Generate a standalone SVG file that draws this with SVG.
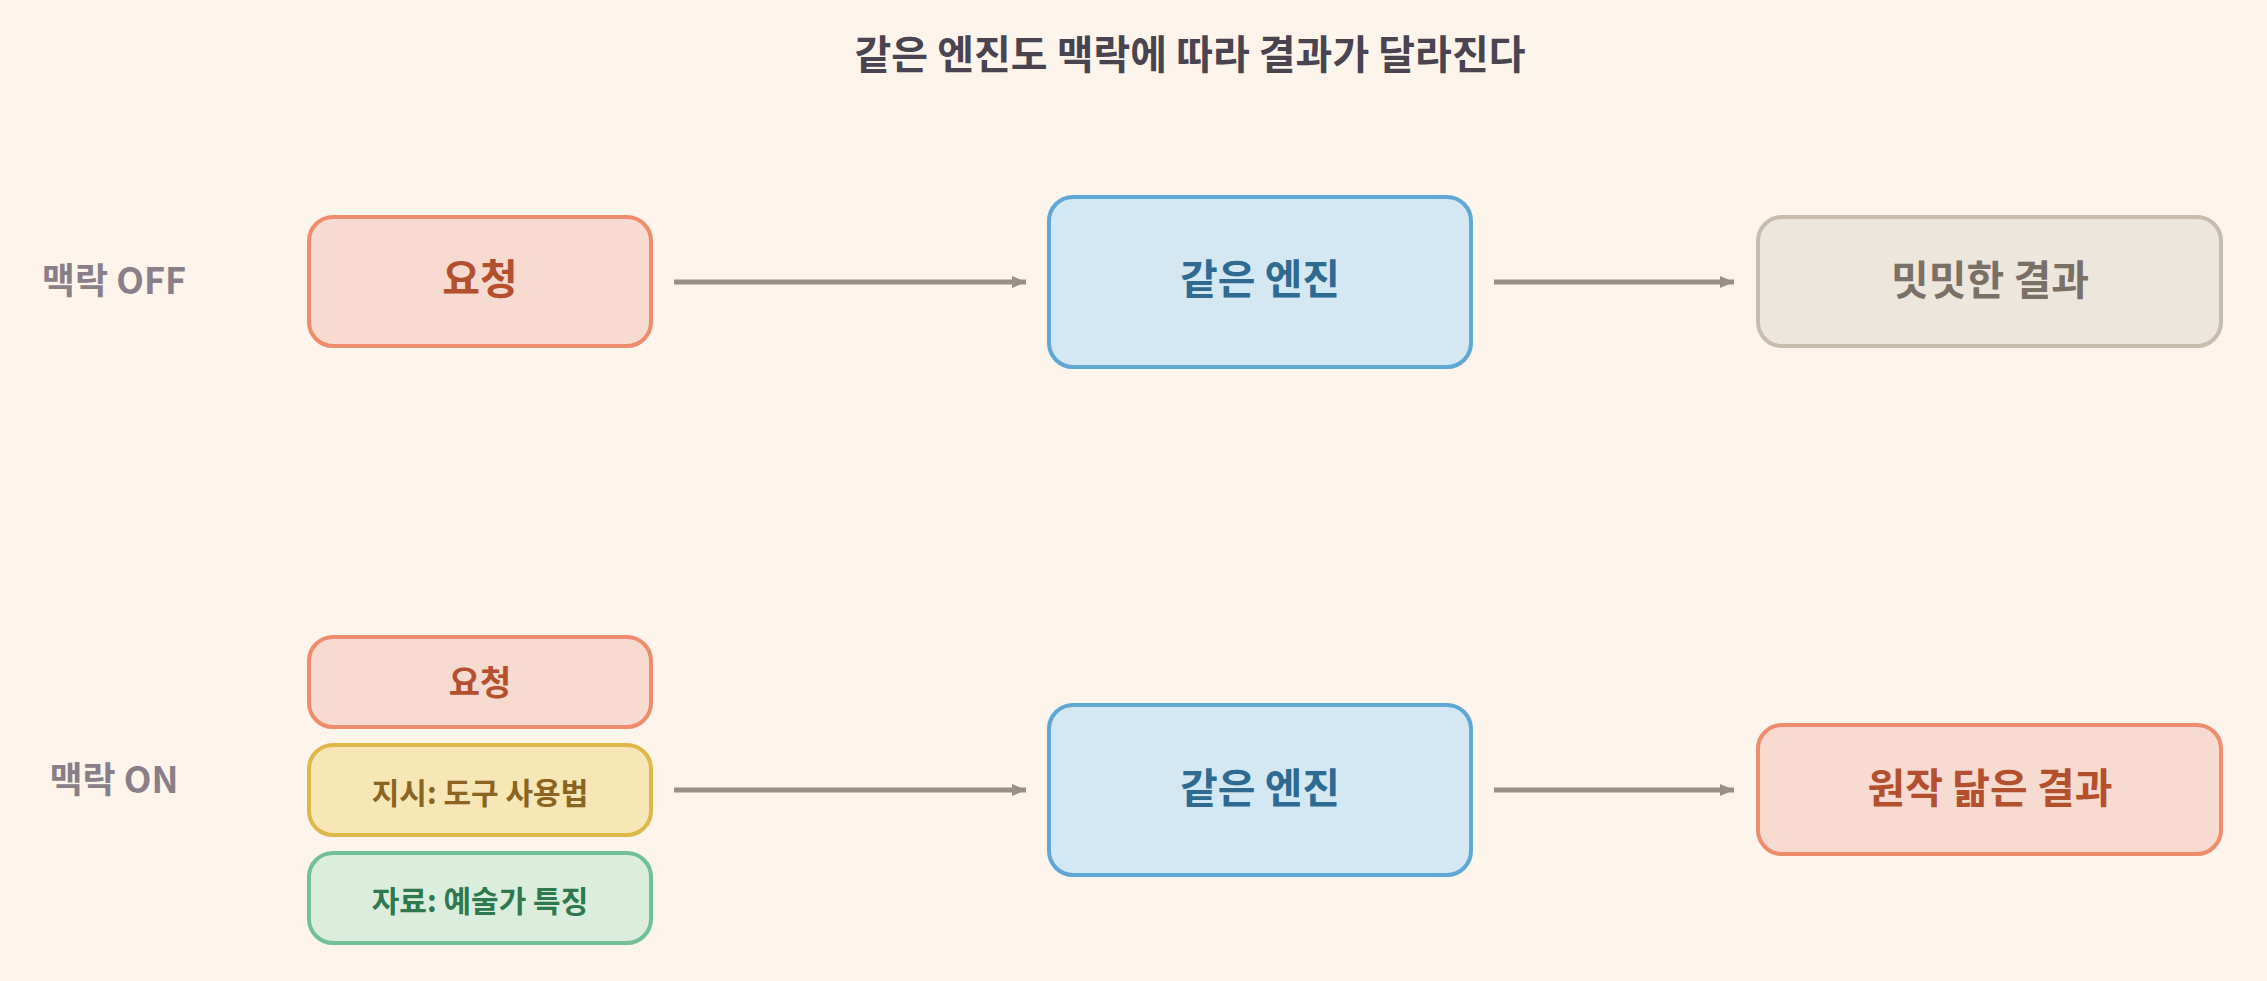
<svg xmlns="http://www.w3.org/2000/svg" width="2267" height="981" viewBox="0 0 2267 981">
<defs>
<style>
text{font-family:"Noto Sans CJK KR","Noto Sans",sans-serif;font-weight:700;text-anchor:middle}
.title{font-size:40px;fill:#4a4350}
.lbl{font-size:36px;fill:#8a7f88}
.big{font-size:41px}
.sm{font-size:30px}
.req rect{fill:#f7dbd1;stroke:#ef8c6c;stroke-width:4}
.req text{fill:#b5502e}
.eng rect{fill:#d4e8f3;stroke:#5fa8d3;stroke-width:4}
.eng text{fill:#2e6a92}
.dull rect{fill:#ede6dd;stroke:#c8bcae;stroke-width:4}
.dull text{fill:#7a7065}
.ins rect{fill:#f7e6b6;stroke:#e0b84a;stroke-width:4}
.ins text{fill:#8a6420}
.dat rect{fill:#dbeedd;stroke:#72c095;stroke-width:4}
.dat text{fill:#2e7a4e}
.conn line{stroke:#9a8f85;stroke-width:5;marker-end:url(#ah)}
</style>
<marker id="ah" markerUnits="userSpaceOnUse" markerWidth="14" markerHeight="14" refX="14" refY="7" orient="auto">
<path d="M0,1 L14,7 L0,13 Z" fill="#9a8f85"/>
</marker>
</defs>
<rect width="2267" height="981" fill="#fdf5ec"/>
<text class="title" x="1190" y="69">같은 엔진도 맥락에 따라 결과가 달라진다</text>
<g id="label-off"><text class="lbl" x="114" y="294">맥락 OFF</text></g>
<g id="label-on"><text class="lbl" x="114" y="793">맥락 ON</text></g>
<g id="req-off" class="req"><rect x="309" y="217" width="342" height="129" rx="24"/><text class="big" x="480" y="294">요청</text></g>
<g id="eng-off" class="eng"><rect x="1049" y="197" width="422" height="170" rx="24"/><text class="big" x="1260" y="294">같은 엔진</text></g>
<g id="res-off" class="dull"><rect x="1758" y="217" width="463" height="129" rx="24"/><text class="big" x="1990" y="295">밋밋한 결과</text></g>
<g id="req-on" class="req"><rect x="309" y="637" width="342" height="90" rx="24"/><text x="480" y="695" style="font-size:34px">요청</text></g>
<g id="ins-on" class="ins"><rect x="309" y="745" width="342" height="90" rx="24"/><text class="sm" x="480" y="804">지시: 도구 사용법</text></g>
<g id="dat-on" class="dat"><rect x="309" y="853" width="342" height="90" rx="24"/><text class="sm" x="480" y="912">자료: 예술가 특징</text></g>
<g id="eng-on" class="eng"><rect x="1049" y="705" width="422" height="170" rx="24"/><text class="big" x="1260" y="803">같은 엔진</text></g>
<g id="res-on" class="req"><rect x="1758" y="725" width="463" height="129" rx="24"/><text class="big" x="1990" y="803">원작 닮은 결과</text></g>
<g id="connectors" class="conn">
<line x1="674" y1="282" x2="1026" y2="282"/>
<line x1="1494" y1="282" x2="1734" y2="282"/>
<line x1="674" y1="790" x2="1026" y2="790"/>
<line x1="1494" y1="790" x2="1734" y2="790"/>
</g>
</svg>
